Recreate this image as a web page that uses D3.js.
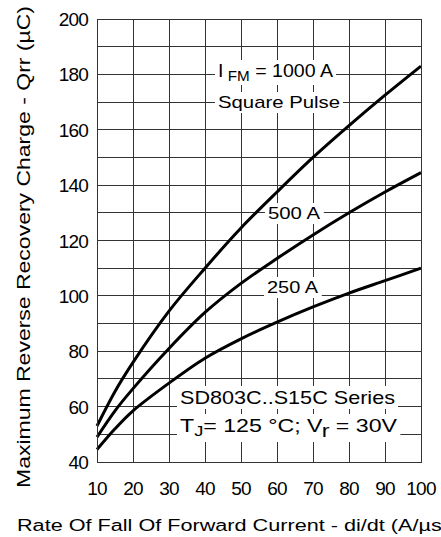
<!DOCTYPE html>
<html>
<head>
    <script src="https://d3js.org/d3.v7.min.js"></script>
    <style>
        body { margin: 0; background: #fff; }
        svg text { font-family: "Liberation Sans", Arial, sans-serif; fill: #000; }
    </style>
</head>
<body>
    <div id="chart"></div>
    <script>
        const width = 441;
        const height = 537;

        // Data
        const rates = [10, 15, 20, 30, 40, 50, 60, 70, 80, 90, 100];
        const qrr1000 = [53, 65.5, 76, 94.5, 110, 124.5, 137.5, 150, 161.5, 172.5, 183];
        const qrr500 = [49, 58.5, 66.5, 81, 94, 104.5, 113.5, 122, 130, 137.5, 144.5];
        const qrr250 = [44.5, 52, 58.5, 68.5, 77.5, 84.5, 90.5, 96, 101, 105.5, 110];
        const xTicks = [10, 20, 30, 40, 50, 60, 70, 80, 90, 100];
        const yTicks = [40, 60, 80, 100, 120, 140, 160, 180, 200];
        const yGrid = d3.range(40, 201, 10);

        const margin = { top: 19, right: 20, bottom: 75, left: 97 };

        const svg = d3.select('#chart')
            .append('svg')
            .attr('width', width)
            .attr('height', height);

        const x = d3.scaleLinear().domain([10, 100]).range([margin.left, width - margin.right]);
        const y = d3.scaleLinear().domain([40, 200]).range([height - margin.bottom, margin.top]);

        // Grid
        const grid = svg.append('g').attr('stroke', '#333').attr('stroke-width', 1).attr('shape-rendering', 'crispEdges');
        grid.selectAll('.vx').data(xTicks).join('line')
            .attr('x1', d => x(d)).attr('x2', d => x(d))
            .attr('y1', y(40)).attr('y2', y(200));
        grid.selectAll('.hy').data(yGrid).join('line')
            .attr('x1', x(10)).attr('x2', x(100))
            .attr('y1', d => y(d)).attr('y2', d => y(d));

        // Tick labels
        svg.append('g').selectAll('text').data(yTicks).join('text')
            .attr('x', margin.left - 9)
            .attr('y', d => y(d) + 7)
            .attr('text-anchor', 'end')
            .attr('font-size', 19)
            .attr('letter-spacing', -0.8)
            .text(d => d);
        svg.append('g').selectAll('text').data(xTicks).join('text')
            .attr('x', d => x(d))
            .attr('y', y(40) + 33)
            .attr('text-anchor', 'middle')
            .attr('font-size', 19)
            .attr('letter-spacing', -0.8)
            .text(d => d);

        // Annotation helper: text on a white box
        function label(g, px, py, size, len, build) {
            const t = g.append('text').attr('x', px).attr('y', py).attr('font-size', size);
            build(t);
            if (len) t.attr('textLength', len).attr('lengthAdjust', 'spacingAndGlyphs');
            const b = t.node().getBBox();
            g.insert('rect', () => t.node())
                .attr('x', b.x - 3).attr('y', b.y - 1)
                .attr('width', b.width + 6).attr('height', b.height + 2)
                .attr('fill', '#fff');
        }

        const ann = svg.append('g');

        // Curves
        const line = d3.line()
            .x(d => x(d[0]))
            .y(d => y(d[1]))
            .curve(d3.curveCatmullRom);
        [qrr1000, qrr500, qrr250].forEach(s => {
            svg.append('path')
                .datum(rates.map((r, i) => [r, s[i]]))
                .attr('fill', 'none')
                .attr('stroke', '#000')
                .attr('stroke-width', 3)
                .attr('d', line);
        });

        label(ann, 218, 77, 18, 115, t => {
            t.append('tspan').text('I');
            t.append('tspan').attr('font-size', 14).attr('dy', 4).attr('dx', 4).text('FM');
            t.append('tspan').attr('dy', -4).text(' = 1000 A');
        });
        label(ann, 218, 108, 17, 122, t => t.text('Square Pulse'));
        label(ann, 268, 219, 17, 52, t => t.text('500 A'));
        label(ann, 267, 293, 17, 51, t => t.text('250 A'));
        label(ann, 180, 404, 19, 215, t => t.text('SD803C..S15C Series'));
        label(ann, 180, 432, 19, 217, t => {
            t.append('tspan').text('T');
            t.append('tspan').attr('font-size', 15).attr('dy', 4).text('J');
            t.append('tspan').attr('dy', -4).text('= 125 °C; V');
            t.append('tspan').attr('font-size', 19).attr('dy', 5).text('r');
            t.append('tspan').attr('dy', -5).text(' = 30V');
        });

        // Plot border
        svg.append('rect')
            .attr('x', x(10)).attr('y', y(200))
            .attr('width', x(100) - x(10)).attr('height', y(40) - y(200))
            .attr('fill', 'none').attr('stroke', '#333').attr('shape-rendering', 'crispEdges');

        // Axis titles
        svg.append('text')
            .attr('x', 17).attr('y', 531)
            .attr('font-size', 16)
            .attr('textLength', 432).attr('lengthAdjust', 'spacingAndGlyphs')
            .text('Rate Of Fall Of Forward Current - di/dt (A/µs)');
        svg.append('text')
            .attr('transform', 'translate(30,488) rotate(-90)')
            .attr('font-size', 18)
            .attr('textLength', 482).attr('lengthAdjust', 'spacingAndGlyphs')
            .text('Maximum Reverse Recovery Charge - Qrr (µC)');
    </script>
</body>
</html>
